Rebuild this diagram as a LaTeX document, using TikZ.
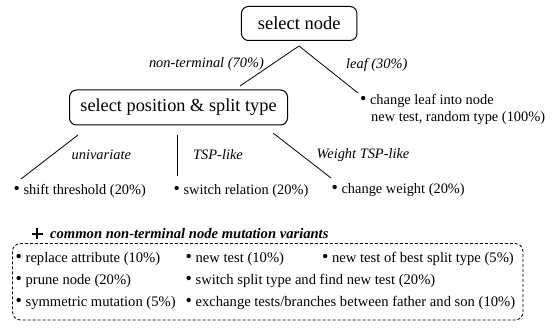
\documentclass[tikz,border=0pt]{standalone}
\usepackage{fontspec}
\setmainfont{Liberation Serif}
% slightly enlarged list bullet
\newcommand{\bul}{{\fontsize{18}{17}\selectfont\raisebox{-0.3pt}{\textbullet}}}
\begin{document}
\begin{tikzpicture}[x=1pt,y=-1pt,
  box/.style={draw, rounded corners=7pt, line width=1pt, inner sep=0pt},
  lbl/.style={font=\fontsize{14.4}{17}\selectfont\itshape, inner sep=0pt},
  item/.style={font=\fontsize{14.4}{17}\selectfont, inner sep=0pt, anchor=west},
  row/.style={font=\fontsize{14.6}{17}\selectfont, inner sep=0pt, anchor=west},
  conn/.style={line width=0.8pt}]
\useasboundingbox (0,0) rectangle (557,328);

% top level
\node[box, minimum width=115.5pt, minimum height=34pt, font=\fontsize{18.5}{22}\selectfont]
  (sel) at (299.2,23.5) {select node};
\node[box, minimum width=218pt, minimum height=35pt, font=\fontsize{18.3}{22}\selectfont]
  (pos) at (178.5,107.5) {select position \& split type};
\coordinate (apex) at (299,46);
\coordinate (ntEnd) at (240,86);
\coordinate (leafEnd) at (358,93);
\draw[conn] (apex) -- (ntEnd);
\draw[conn] (apex) -- (leafEnd);
\node[lbl, anchor=east] (ntLbl) at (264,64.5) {non-terminal (70\%)};
\node[lbl, anchor=west] (leafLbl) at (346,64.5) {leaf (30\%)};

% leaf branch
\node[item] (leafA) at (360,101) {\bul\ change leaf into node};
\node[item] (leafB) at (371,118) {new test, random type (100\%)};

% split types
\coordinate (uniTop) at (78,135);
\coordinate (uniEnd) at (21,179);
\coordinate (tspTop) at (177.5,135);
\coordinate (tspEnd) at (177.5,176);
\coordinate (wTop) at (273,133);
\coordinate (wEnd) at (331,178);
\draw[conn] (uniTop) -- (uniEnd);
\draw[conn] (tspTop) -- (tspEnd);
\draw[conn] (wTop) -- (wEnd);
\node[lbl, anchor=west] (uniLbl) at (71.5,155) {univariate};
\node[lbl, anchor=west] (tspLbl) at (193,155) {TSP-like};
\node[lbl, anchor=west] (wLbl) at (316.5,155) {Weight TSP-like};
\node[item] (shift) at (13.5,191) {\bul\ shift threshold (20\%)};
\node[item] (switch) at (173.5,191) {\bul\ switch relation (20\%)};
\node[item] (weight) at (331.5,190) {\bul\ change weight (20\%)};

% common variants
\draw[line width=2.6pt] (31.5,234) -- (42.5,234) (37,228.5) -- (37,239.5);
\node[font=\fontsize{14.6}{17}\selectfont\bfseries\itshape, inner sep=0pt, anchor=west]
  (common) at (50,234) {common non-terminal node mutation variants};
\draw[line width=0.8pt, rounded corners=8pt, dash pattern=on 3pt off 2pt]
  (12.5,243.5) rectangle (523,320);
\node[row] (r1a) at (15.5,259) {\bul\ replace attribute (10\%)};
\node[row] (r1b) at (185.5,259) {\bul\ new test (10\%)};
\node[row] (r1c) at (322,259) {\bul\ new test of best split type (5\%)};
\node[row] (r2a) at (15.5,281) {\bul\ prune node (20\%)};
\node[row] (r2b) at (185.5,281) {\bul\ switch split type and find new test (20\%)};
\node[row] (r3a) at (15.5,303) {\bul\ symmetric mutation (5\%)};
\node[row] (r3b) at (185.5,303) {\bul\ exchange tests/branches between father and son (10\%)};
\end{tikzpicture}
\end{document}
